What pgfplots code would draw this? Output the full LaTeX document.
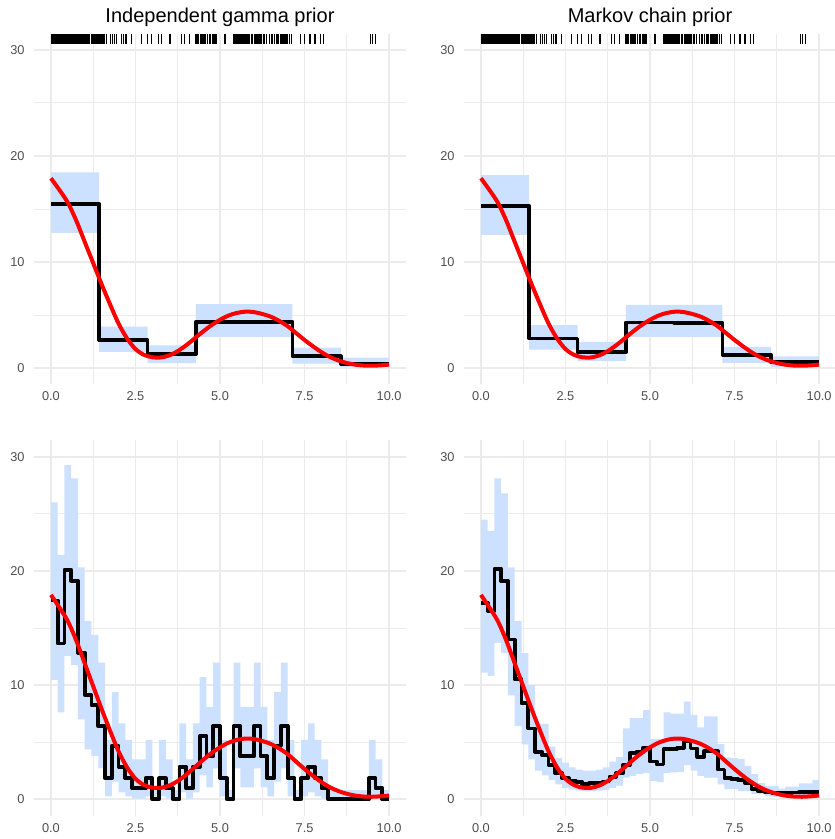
\documentclass[border=0pt]{standalone}
\usepackage{fontspec}
\setmainfont{Liberation Sans}
\usepackage{pgfplots}
\pgfplotsset{compat=1.18}
\usepackage{pgfplotstable}
\definecolor{ribbon}{RGB}{204,224,255}
\definecolor{gridc}{RGB}{235,235,235}
\definecolor{tickc}{RGB}{77,77,77}

% true intensity (red)
\pgfplotstableread{
x y
0.00 17.90
0.25 16.80
0.50 15.60
0.75 13.90
1.00 11.90
1.25 9.90
1.50 7.90
1.75 6.00
2.00 4.20
2.25 2.80
2.50 1.80
2.75 1.25
3.00 1.02
3.25 1.00
3.50 1.20
3.75 1.60
4.00 2.15
4.25 2.80
4.50 3.45
4.75 4.05
5.00 4.55
5.25 4.95
5.50 5.20
5.75 5.32
6.00 5.28
6.25 5.10
6.50 4.85
6.75 4.45
7.00 3.95
7.25 3.30
7.50 2.65
7.75 2.05
8.00 1.50
8.25 1.05
8.50 0.72
8.75 0.48
9.00 0.32
9.25 0.24
9.50 0.22
9.75 0.26
10.00 0.33
}\truth

% top-left: independent gamma prior, 7 bins (x = left edge, c = centre)
\pgfplotstableread{
x c m lo hi
0 0.714286 15.50 12.75 18.45
1.428571 2.142857 2.63 1.52 3.90
2.857143 3.571429 1.30 0.47 2.15
4.285714 5.000000 4.37 2.94 6.04
5.714286 6.428571 4.37 2.94 6.04
7.142857 7.857143 1.11 0.41 1.93
8.571429 9.285714 0.41 0.10 0.98
10 10.714286 0.41 0.10 0.98
}\tA

% top-right: Markov chain prior, 7 bins
\pgfplotstableread{
x c m lo hi
0 0.714286 15.30 12.56 18.20
1.428571 2.142857 2.78 1.74 4.05
2.857143 3.571429 1.49 0.66 2.47
4.285714 5.000000 4.30 2.94 5.95
5.714286 6.428571 4.27 2.94 5.95
7.142857 7.857143 1.27 0.50 2.00
8.571429 9.285714 0.57 0.10 1.10
10 10.714286 0.57 0.10 1.10
}\tB

% bottom-left: independent gamma prior, 50 bins
\pgfplotstableread{
x c m lo hi
0.0 0.1 17.40 10.45 26.00
0.2 0.3 13.65 7.60 21.40
0.4 0.5 20.10 12.55 29.27
0.6 0.7 19.14 11.76 28.10
0.8 0.9 12.84 7.00 20.30
1.0 1.1 9.13 4.38 15.60
1.2 1.3 8.23 3.79 14.40
1.4 1.5 6.42 2.70 11.96
1.6 1.7 1.84 0.25 5.20
1.8 1.9 4.67 1.55 9.40
2.0 2.1 2.86 0.60 6.65
2.2 2.3 1.84 0.25 5.20
2.4 2.5 0.96 0.05 3.50
2.6 2.7 0.96 0.05 3.50
2.8 2.9 1.84 0.25 5.20
3.0 3.1 0.00 0.00 0.80
3.2 3.3 1.84 0.25 5.20
3.4 3.5 0.96 0.05 3.50
3.6 3.7 0.00 0.00 0.80
3.8 3.9 2.86 0.60 6.65
4.0 4.1 0.96 0.05 3.50
4.2 4.3 2.86 0.60 6.65
4.4 4.5 5.54 2.10 10.70
4.6 4.7 3.76 1.05 8.10
4.8 4.9 6.42 2.70 11.96
5.0 5.1 1.84 0.25 5.20
5.2 5.3 0.00 0.00 0.80
5.4 5.5 6.42 2.70 11.96
5.6 5.7 3.76 1.05 8.10
5.8 5.9 3.76 1.05 8.10
6.0 6.1 6.42 2.70 11.96
6.2 6.3 3.76 1.05 8.10
6.4 6.5 1.84 0.25 5.20
6.6 6.7 4.67 1.55 9.40
6.8 6.9 6.42 2.70 11.96
7.0 7.1 1.84 0.25 5.20
7.2 7.3 0.00 0.00 0.80
7.4 7.5 1.84 0.25 5.20
7.6 7.7 2.86 0.60 6.65
7.8 7.9 1.84 0.25 5.20
8.0 8.1 0.96 0.05 3.50
8.2 8.3 0.00 0.00 0.80
8.4 8.5 0.00 0.00 0.80
8.6 8.7 0.00 0.00 0.80
8.8 8.9 0.00 0.00 0.80
9.0 9.1 0.00 0.00 0.80
9.2 9.3 0.00 0.00 0.80
9.4 9.5 1.84 0.25 5.20
9.6 9.7 0.96 0.05 3.50
9.8 9.9 0.00 0.00 0.80
10.0 10.1 0.00 0.00 0.80
}\tC

% bottom-right: Markov chain prior, 50 bins
\pgfplotstableread{
x c m lo hi
0.0 0.1 17.20 11.10 24.50
0.2 0.3 16.50 10.80 23.50
0.4 0.5 20.20 13.70 28.10
0.6 0.7 19.10 12.80 26.80
0.8 0.9 14.00 9.10 20.30
1.0 1.1 10.50 6.40 15.60
1.2 1.3 8.40 4.80 12.80
1.4 1.5 6.20 3.50 10.00
1.6 1.7 4.17 2.50 6.60
1.8 1.9 3.88 2.10 6.60
2.0 2.1 3.00 1.70 4.60
2.2 2.3 2.28 1.30 3.60
2.4 2.5 1.84 1.00 3.20
2.6 2.7 1.60 0.85 2.80
2.8 2.9 1.49 0.75 2.60
3.0 3.1 1.31 0.70 2.50
3.2 3.3 1.40 0.70 2.50
3.4 3.5 1.46 0.75 2.60
3.6 3.7 1.55 0.80 2.80
3.8 3.9 1.98 1.00 3.30
4.0 4.1 2.28 1.20 3.70
4.2 4.3 3.00 1.90 6.20
4.4 4.5 4.05 2.05 7.10
4.6 4.7 4.16 2.20 7.10
4.8 4.9 4.52 2.30 7.80
5.0 5.1 3.30 1.60 5.30
5.2 5.3 3.05 1.50 5.30
5.4 5.5 4.40 2.30 7.60
5.6 5.7 4.40 2.35 7.50
5.8 5.9 4.50 2.40 7.50
6.0 6.1 5.10 3.00 8.56
6.2 6.3 4.45 2.50 7.40
6.4 6.5 3.70 2.05 6.30
6.6 6.7 4.20 1.90 7.27
6.8 6.9 4.20 1.90 7.27
7.0 7.1 2.60 1.30 4.84
7.2 7.3 1.85 0.88 3.67
7.4 7.5 1.80 0.88 3.60
7.6 7.7 1.70 0.73 3.52
7.8 7.9 1.45 0.73 2.93
8.0 8.1 0.90 0.44 2.20
8.2 8.3 0.70 0.44 1.41
8.4 8.5 0.60 0.25 1.17
8.6 8.7 0.58 0.22 1.17
8.8 8.9 0.55 0.20 0.94
9.0 9.1 0.58 0.20 1.10
9.2 9.3 0.60 0.20 1.10
9.4 9.5 0.63 0.20 1.40
9.6 9.7 0.65 0.20 1.40
9.8 9.9 0.65 0.22 1.67
10.0 10.1 0.65 0.22 1.67
}\tD

% event times (rug), drawn at the top of the panel (r = 31)
\pgfplotstableread{
t r
0.01 31
0.02 31
0.03 31
0.04 31
0.05 31
0.06 31
0.07 31
0.08 31
0.09 31
0.10 31
0.11 31
0.12 31
0.13 31
0.14 31
0.15 31
0.16 31
0.17 31
0.18 31
0.19 31
0.21 31
0.22 31
0.24 31
0.25 31
0.26 31
0.28 31
0.29 31
0.30 31
0.32 31
0.33 31
0.34 31
0.36 31
0.37 31
0.38 31
0.39 31
0.40 31
0.41 31
0.42 31
0.43 31
0.44 31
0.45 31
0.46 31
0.47 31
0.48 31
0.49 31
0.50 31
0.51 31
0.52 31
0.53 31
0.54 31
0.55 31
0.56 31
0.57 31
0.58 31
0.59 31
0.60 31
0.61 31
0.62 31
0.63 31
0.64 31
0.65 31
0.66 31
0.67 31
0.68 31
0.69 31
0.70 31
0.71 31
0.72 31
0.73 31
0.74 31
0.75 31
0.76 31
0.77 31
0.78 31
0.79 31
0.81 31
0.82 31
0.84 31
0.85 31
0.86 31
0.88 31
0.89 31
0.90 31
0.92 31
0.93 31
0.94 31
0.96 31
0.97 31
0.98 31
1.01 31
1.03 31
1.05 31
1.07 31
1.09 31
1.11 31
1.13 31
1.15 31
1.19 31
1.21 31
1.23 31
1.27 31
1.29 31
1.31 31
1.36 31
1.39 31
1.42 31
1.45 31
1.48 31
1.54 31
1.56 31
1.59 31
1.65 31
1.76 31
1.83 31
1.89 31
1.93 31
2.09 31
2.14 31
2.22 31
2.39 31
2.68 31
2.85 31
2.98 31
3.17 31
3.27 31
3.52 31
3.87 31
3.96 31
4.10 31
4.29 31
4.33 31
4.37 31
4.42 31
4.45 31
4.49 31
4.52 31
4.55 31
4.58 31
4.63 31
4.68 31
4.72 31
4.77 31
4.81 31
4.84 31
4.87 31
4.90 31
5.15 31
5.39 31
5.44 31
5.47 31
5.50 31
5.53 31
5.56 31
5.59 31
5.63 31
5.68 31
5.72 31
5.77 31
5.83 31
5.88 31
5.92 31
5.97 31
6.01 31
6.04 31
6.07 31
6.10 31
6.13 31
6.16 31
6.19 31
6.23 31
6.28 31
6.32 31
6.37 31
6.46 31
6.54 31
6.62 31
6.66 31
6.70 31
6.74 31
6.78 31
6.81 31
6.84 31
6.87 31
6.90 31
6.93 31
6.96 31
6.99 31
7.06 31
7.12 31
7.37 31
7.51 31
7.66 31
7.81 31
7.96 31
8.06 31
9.44 31
9.50 31
9.59 31
}\rug

\pgfplotsset{
  frame/.style={
    scale only axis, width=186pt,
    xmin=-0.5, xmax=10.5, ymin=-1.5, ymax=31.5,
    axis line style={draw=none},
    major tick length=0pt, minor tick length=0pt,
    anchor=south west, clip=true,
  },
  panel/.style={
    frame,
    xtick={0,2.5,5,7.5,10}, xticklabels={0.0,2.5,5.0,7.5,10.0},
    ytick={0,10,20,30}, yticklabels={0,10,20,30},
    minor xtick={1.25,3.75,6.25,8.75}, minor ytick={5,15,25},
    grid=both,
    major grid style={draw=gridc, line width=0.8pt},
    minor grid style={draw=gridc, line width=0.45pt},
    tick label style={font=\fontsize{6.4}{7}\selectfont, text=tickc},
    xticklabel style={inner sep=0pt, anchor=north, yshift=-3.6pt},
    yticklabel style={inner sep=0pt, anchor=east, xshift=-4.5pt},
    every axis title/.style={at={(0.5,1)}, anchor=south, inner sep=0pt, yshift=3.5pt, font=\fontsize{10}{12}\selectfont},
    ybar stacked, bar shift=0pt,
  },
  over/.style={frame, xtick=\empty, ytick=\empty},
}

% ribbon: invisible bar up to lo, then a filled bar from lo to hi
\newcommand{\ribbon}[2]{%
  \addplot[draw=none, fill=none, bar width=#2, restrict x to domain=-1:10] table[x=c, y=lo]{#1};
  \addplot[draw=none, fill=ribbon, bar width=#2, restrict x to domain=-1:10] table[x=c, y expr=\thisrow{hi}-\thisrow{lo}]{#1};
}
\newcommand{\lines}[1]{%
  \addplot[const plot, black, line width=1.9pt, line join=round] table[x=x, y=m]{#1};
  \addplot[red, line width=2pt, smooth] table[x=x, y=y]{\truth};
}

\begin{document}
\begin{tikzpicture}
\path[use as bounding box] (0,0) rectangle (417pt,419.5pt);

\begin{axis}[panel, height=175pt, at={(17pt,227.5pt)}, title={Independent gamma prior}]
  \ribbon{\tA}{1.428571}
\end{axis}
\begin{axis}[over, height=175pt, at={(17pt,227.5pt)}]
  \lines{\tA}
  \addplot[only marks, mark=|, mark size=2.6pt, mark options={line width=0.6pt, black}] table[x=t, y=r]{\rug};
\end{axis}

\begin{axis}[panel, height=175pt, at={(232pt,227.5pt)}, title={Markov chain prior}]
  \ribbon{\tB}{1.428571}
\end{axis}
\begin{axis}[over, height=175pt, at={(232pt,227.5pt)}]
  \lines{\tB}
  \addplot[only marks, mark=|, mark size=2.6pt, mark options={line width=0.6pt, black}] table[x=t, y=r]{\rug};
\end{axis}

\begin{axis}[panel, height=188.4pt, at={(17pt,11.3pt)}]
  \ribbon{\tC}{0.2}
\end{axis}
\begin{axis}[over, height=188.4pt, at={(17pt,11.3pt)}]
  \lines{\tC}
\end{axis}

\begin{axis}[panel, height=188.4pt, at={(232pt,11.3pt)}]
  \ribbon{\tD}{0.2}
\end{axis}
\begin{axis}[over, height=188.4pt, at={(232pt,11.3pt)}]
  \lines{\tD}
\end{axis}
\end{tikzpicture}
\end{document}
